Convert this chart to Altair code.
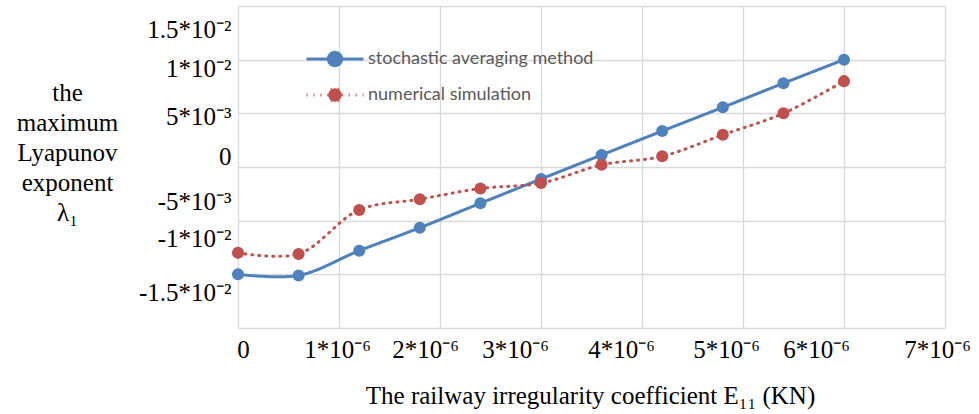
import json

import altair as alt
import pandas as pd

# Series
series_names = ["stochastic averaging method", "numerical simulation"]
series_colors = ["#4F81BD", "#C0504D"]

x_values = [0.0, 0.6e-6, 1.2e-6, 1.8e-6, 2.4e-6, 3.0e-6, 3.6e-6, 4.2e-6, 4.8e-6, 5.4e-6, 6.0e-6]
stochastic_averaging = [-0.0100, -0.0101, -0.0078, -0.00566, -0.00338, -0.00112,
                        0.00112, 0.00335, 0.00556, 0.0078, 0.0100]
numerical_simulation = [-0.0080, -0.0081, -0.0040, -0.0030, -0.0020, -0.0015,
                        0.0002, 0.0010, 0.0030, 0.0050, 0.0080]

# Axis ticks and their labels
x_ticks = [0.0, 1e-6, 2e-6, 3e-6, 4e-6, 5e-6, 6e-6, 7e-6]
x_tick_labels = ["0", "1*10⁻⁶", "2*10⁻⁶", "3*10⁻⁶", "4*10⁻⁶", "5*10⁻⁶", "6*10⁻⁶", "7*10⁻⁶"]
y_ticks = [-0.015, -0.01, -0.005, 0.0, 0.005, 0.01, 0.015]
y_tick_labels = ["-1.5*10⁻²", "-1*10⁻²", "-5*10⁻³", "0", "5*10⁻³", "1*10⁻²", "1.5*10⁻²"]

# the tick labels sit as loose text boxes, nudged away from their grid lines (px)
x_label_nudge = [5, -2, -15, -26, -21, -17, -28, -8]
y_label_nudge = [-36, -36, -19, -11, 3, 9, 23]

x_title = "The railway irregularity coefficient E₁₁ (KN)"
y_title = ["the", "maximum", "Lyapunov", "exponent", "λ₁"]

rows = []
for name, values in zip(series_names, [stochastic_averaging, numerical_simulation]):
    for x, y in zip(x_values, values):
        rows.append({"series": name, "E11": x, "lyapunov": y})
df = pd.DataFrame(rows)


def per_tick(ticks, items):
    return f"{json.dumps(items, ensure_ascii=False)}[indexof({json.dumps(ticks)}, datum.value)]"


SERIF = "Liberation Serif"
GRID = "#D9D9D9"
FS = 25

# custom legend glyph: a line with a filled marker in the middle
legend_glyph = "M-3,0L-0.7,0A0.7,0.7,0,1,1,0.7,0A0.7,0.7,0,1,1,-0.7,0M0.7,0L3,0"
legend_style = dict(
    title=None, orient="none", legendX=86, legendY=42,
    symbolType=legend_glyph, symbolSize=361, symbolStrokeWidth=3,
    labelFont="Lato", labelFontSize=18, labelColor="#595959", labelLimit=0,
    labelOffset=22, rowPadding=10, padding=0,
)

x_enc = alt.X(
    "E11:Q",
    scale=alt.Scale(domain=[0, 7e-6], nice=False, zero=False),
    axis=alt.Axis(
        values=x_ticks,
        labelExpr=per_tick(x_ticks, x_tick_labels),
        labelOffset=alt.ExprRef(expr=per_tick(x_ticks, x_label_nudge)),
        grid=True, gridColor=GRID, gridWidth=1.3,
        domain=False, ticks=False,
        labelFont=SERIF, labelFontSize=FS, labelColor="#000000",
        labelBaseline="alphabetic", labelPadding=29, labelFlush=False,
        labelOverlap=False, labelBound=False,
        title=x_title, titleFont=SERIF, titleFontSize=FS, titleFontWeight="normal",
        titleColor="#000000", titleAlign="center", titleBaseline="alphabetic",
        titleX=352, titleY=75,
    ),
)
y_enc = alt.Y(
    "lyapunov:Q",
    scale=alt.Scale(domain=[-0.015, 0.015], nice=False, zero=False),
    axis=alt.Axis(
        values=y_ticks,
        labelExpr=per_tick(y_ticks, y_tick_labels),
        labelOffset=alt.ExprRef(expr=per_tick(y_ticks, y_label_nudge)),
        grid=True, gridColor=GRID, gridWidth=1.3,
        domain=False, ticks=False,
        labelFont=SERIF, labelFontSize=FS, labelColor="#000000",
        labelAlign="right", labelBaseline="middle", labelPadding=7, labelFlush=False,
        labelOverlap=False, labelBound=False,
        title=y_title, titleFont=SERIF, titleFontSize=FS, titleFontWeight="normal",
        titleColor="#000000", titleAngle=0, titleAlign="center",
        titleBaseline="alphabetic", titleLineHeight=30,
        titleX=-171, titleY=94,
    ),
)
color_enc = alt.Color(
    "series:N",
    scale=alt.Scale(domain=series_names, range=series_colors),
    legend=alt.Legend(**legend_style),
)
dash_enc = alt.StrokeDash(
    "series:N",
    scale=alt.Scale(domain=series_names, range=[[1, 0], [1, 6]]),
    legend=alt.Legend(**legend_style),
)

base = alt.Chart(df).encode(x=x_enc, y=y_enc, color=color_enc)

lines = base.mark_line(interpolate="catmull-rom", strokeWidth=3, strokeCap="round").encode(
    strokeDash=dash_enc
)
points = base.mark_point(filled=True, size=145, opacity=1)

chart = (
    alt.layer(lines, points)
    .properties(
        width=707,
        height=322,
        autosize=alt.AutoSizeParams(type="none"),
        padding={"left": 238, "top": 6, "right": 34, "bottom": 86},
        background="#FFFFFF",
    )
    .configure_view(stroke=None)
)

chart.save("out.html", embed_options={"renderer": "svg", "actions": False})
